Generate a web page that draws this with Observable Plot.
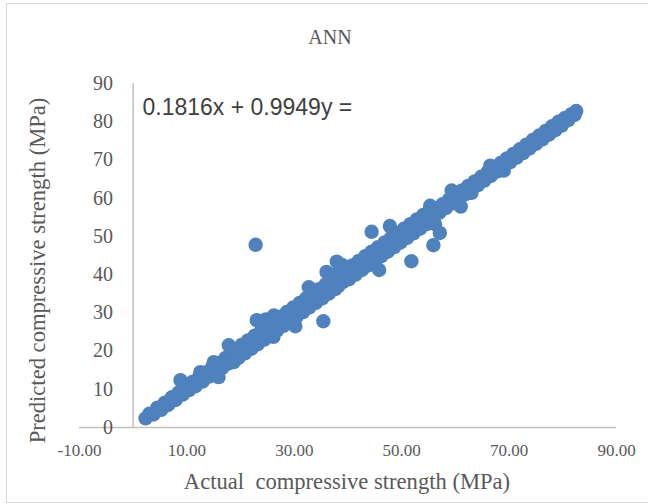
<!DOCTYPE html>
<html>
<head>
<meta charset="utf-8">
<script src="https://cdn.jsdelivr.net/npm/d3@7"></script>
<script src="https://cdn.jsdelivr.net/npm/@observablehq/plot@0.6"></script>
<style>
  html, body { margin: 0; padding: 0; background: #fff; }
  #wrap { position: relative; width: 648px; height: 504px; overflow: hidden; }
  #border { position: absolute; left: 6px; top: 3px; width: 700px; height: 498px; border: 1.5px solid #d9d9d9; pointer-events: none; }
</style>
</head>
<body>
<div id="wrap"><div id="border"></div></div>
<script>
const title = "ANN";
const xLabel = "Actual  compressive strength (MPa)";
const yLabel = "Predicted compressive strength (MPa)";
const equation = "0.1816x + 0.9949y =";
const xTicks = [-10, 10, 30, 50, 70, 90];
const yTicks = [0, 10, 20, 30, 40, 50, 60, 70, 80, 90];

const actual = [
  2.3, 3.0, 3.8, 4.5, 5.2, 5.9, 6.5, 7.2, 7.9, 8.5, 8.8, 9.2, 9.8, 10.4, 11.0, 11.6, 12.2, 12.5, 12.9, 13.5,
  14.1, 14.7, 15.0, 15.3, 15.9, 16.0, 16.6, 17.2, 17.8, 17.8, 18.4, 18.7,
  19.0, 19.6, 20.2, 20.8, 21.4, 22.0, 22.6, 22.8, 23.0, 23.2, 23.8, 24.4, 24.7, 25.0, 25.6, 26.1, 26.2, 26.2,
  26.8, 27.4, 28.0, 28.6, 29.2, 29.8, 30.2, 30.4, 31.0, 31.6, 32.2, 32.7, 32.8, 33.4, 34.0, 34.6, 35.2, 35.4,
  35.8, 36.0, 36.4, 37.0, 37.6, 37.9, 38.2, 38.2, 38.8, 39.0, 39.6, 40.2, 40.8, 41.4, 42.0, 42.6, 43.2, 43.8,
  44.4, 44.4, 45.0, 45.6, 45.8, 46.2, 46.8, 47.4, 47.8, 48.0, 48.6, 49.2, 49.8, 50.4, 51.0, 51.6, 51.8, 52.2,
  52.8, 53.4, 54.0, 54.6, 55.2, 55.3, 55.8, 55.9, 56.2, 57.1,
  56.4, 57.0, 57.6, 58.2, 58.8, 59.3, 59.4, 60.0, 60.6, 61.0, 61.2, 61.8, 62.4, 63.0, 63.0, 63.6, 64.2, 64.8,
  65.4, 66.0, 66.5, 66.6, 67.2, 67.8, 68.4, 69.0, 69.0, 69.6, 70.2, 70.8, 71.4, 72.0, 72.6, 73.2, 73.8, 74.4,
  75.0, 75.6, 76.2, 76.8, 77.4, 78.0, 78.6, 79.2, 79.8, 80.4, 81.0, 81.6, 82.2, 82.5
];
const predicted = [
  2.4, 3.6, 3.4, 5.2, 4.6, 6.5, 5.9, 7.9, 7.2, 9.2, 12.4, 8.6, 10.6, 9.8, 11.9, 10.8, 13.0, 14.5, 12.0, 14.4,
  13.3, 15.8, 17.1, 14.4, 13.2, 16.9, 15.6, 18.2, 21.5, 16.8, 19.4, 17.1,
  20.4, 18.2, 21.6, 19.4, 22.8, 20.6, 24.0, 47.8, 28.1, 21.8, 25.2, 23.0, 28.3, 26.6, 24.2, 23.7, 29.3, 27.8,
  25.4, 29.0, 26.6, 30.2, 27.8, 31.4, 26.5, 29.0, 32.6, 30.2, 33.8, 36.7, 31.4, 35.0, 32.6, 36.2, 33.8, 27.8,
  37.4, 40.7, 35.0, 38.6, 36.2, 43.4, 40.6, 37.0, 42.6, 38.0, 41.2, 38.8, 42.4, 40.0, 43.6, 41.2, 44.8, 42.4,
  51.2, 46.0, 43.6, 47.2, 41.2, 44.8, 48.4, 46.0, 52.7, 49.6, 47.2, 50.8, 48.4, 52.0, 49.6, 53.2, 43.5, 50.8,
  54.4, 52.0, 55.6, 53.2, 56.8, 58.0, 54.6, 47.7, 53.2, 50.9,
  57.4, 56.2, 58.4, 57.4, 59.6, 62.0, 58.6, 60.8, 59.8, 57.8, 62.0, 61.0, 63.2, 61.4, 62.2, 64.4, 63.4, 65.6,
  64.6, 66.8, 68.5, 65.8, 68.0, 67.0, 69.2, 67.2, 68.2, 70.4, 69.4, 71.6, 70.6, 72.8, 71.8, 74.0, 73.0, 75.2,
  74.2, 76.4, 75.4, 77.6, 76.6, 78.8, 77.8, 80.0, 79.0, 81.0, 80.4, 82.0, 81.8, 82.8
];

const data = actual.map((x, i) => ({x, y: predicted[i]}));
const grey = "#595959";
const serif = "'Liberation Serif', serif";

const chart = Plot.plot({
  width: 648,
  height: 504,
  marginLeft: 79,
  marginRight: 32,
  marginTop: 83,
  marginBottom: 77,
  x: {domain: [-10, 90]},
  y: {domain: [0, 90]},
  style: {background: "transparent", fontFamily: serif, overflow: "visible"},
  marks: [
    Plot.ruleY([0], {stroke: "#c0c0c0", strokeWidth: 1.5}),
    Plot.ruleX([0], {y1: 0, y2: 90, stroke: "#c0c0c0", strokeWidth: 1.5}),
    Plot.axisX(xTicks, {tickSize: 0, tickPadding: 16, tickFormat: d => d.toFixed(2), fontSize: 17, fill: grey, label: null}),
    Plot.axisY(yTicks, {tickSize: 0, tickPadding: 0, dx: 33.5, fontSize: 20, fill: grey, label: null}),
    Plot.dot(data, {x: "x", y: "y", r: 7.2, fill: "#4f81bd", stroke: "none"}),
    Plot.text([title], {frameAnchor: "top", dx: -18, dy: -46, lineAnchor: "middle", fontSize: 20, fill: grey, fontFamily: serif}),
    Plot.text([equation], {frameAnchor: "top-left", dx: 63, dy: 24, textAnchor: "start", lineAnchor: "middle", fontSize: 23, fill: "#404040", fontFamily: "'Liberation Sans', Arial, sans-serif"}),
    Plot.text([xLabel], {frameAnchor: "bottom", dx: -1, dy: 54, textAnchor: "middle", lineAnchor: "middle", fontSize: 22.6, fill: grey, fontFamily: serif}),
    Plot.text([yLabel], {frameAnchor: "left", dx: -42, dy: 15, rotate: -90, textAnchor: "middle", lineAnchor: "middle", fontSize: 22.6, fill: grey, fontFamily: serif})
  ]
});
chart.style.position = "absolute";
chart.style.left = "0";
chart.style.top = "0";
document.getElementById("wrap").prepend(chart);
</script>
</body>
</html>
